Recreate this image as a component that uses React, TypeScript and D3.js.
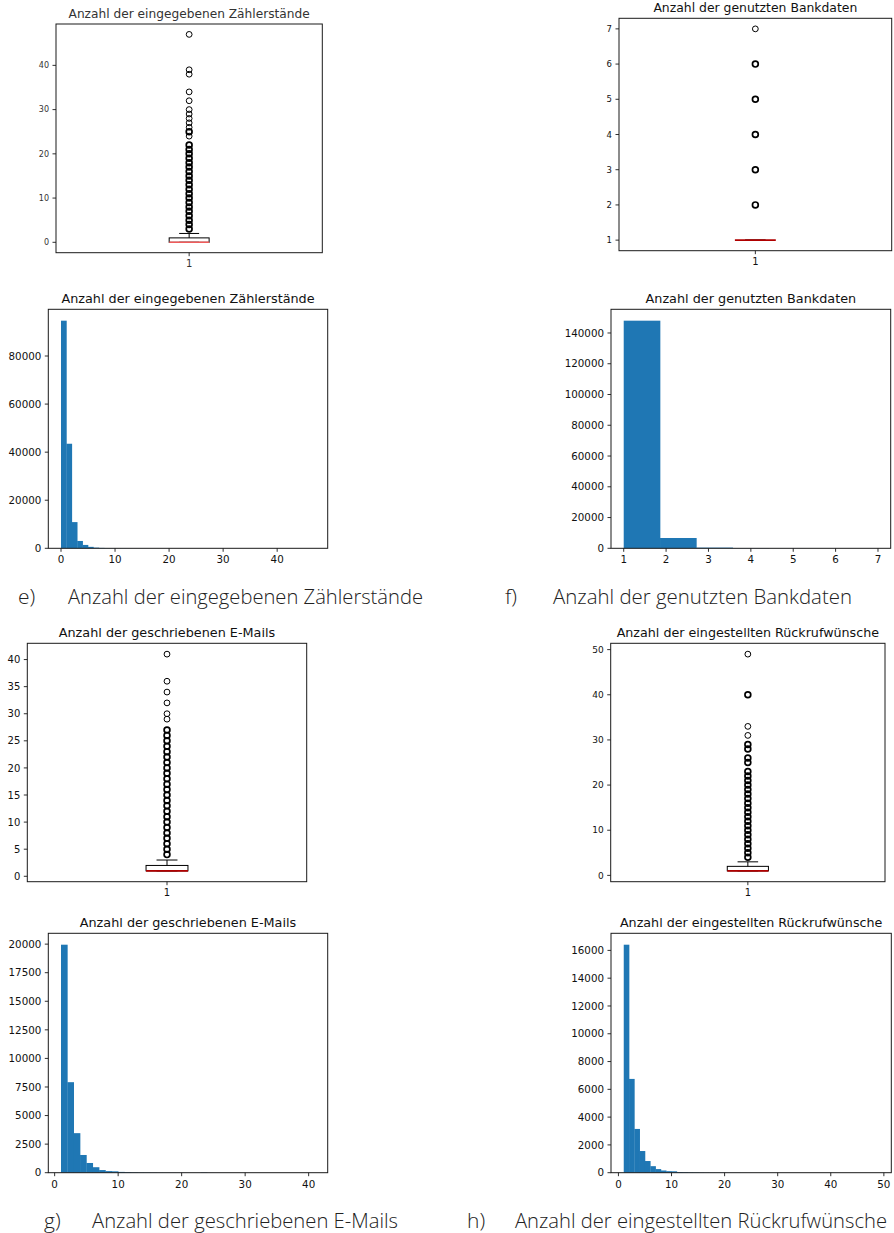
import React from "react";
import * as d3 from "d3";

// ---------- DATA ----------
// Box plot statistics (q1, median, q3, lower whisker, upper whisker)
const boxZaehler = { q1: 0, med: 0, q3: 1, wLo: 0, wHi: 2 };
const boxBank = { q1: 1, med: 1, q3: 1, wLo: 1, wHi: 1 };
const boxMails = { q1: 1, med: 1, q3: 2, wLo: 1, wHi: 3 };
const boxRueckruf = { q1: 1, med: 1, q3: 2, wLo: 1, wHi: 3 };

// Outlier values and how many observations sit on each value
const outZaehlerValues = [3, 4, 5, 6, 7, 8, 9, 10, 11, 12, 13, 14, 15, 16, 17, 18, 19, 20, 21, 22, 24, 25, 26, 27, 28, 29, 30, 32, 34, 38, 39, 47];
const outZaehlerCounts = [3050, 1400, 600, 280, 160, 100, 70, 50, 40, 30, 22, 18, 14, 10, 8, 6, 5, 4, 3, 2, 1, 2, 1, 1, 1, 1, 1, 1, 1, 1, 1, 1];
const outBankValues = [2, 3, 4, 5, 6, 7];
const outBankCounts = [6700, 450, 120, 30, 10, 1];
const outMailsValues = [4, 5, 6, 7, 8, 9, 10, 11, 12, 13, 14, 15, 16, 17, 18, 19, 20, 21, 22, 23, 24, 25, 26, 27, 29, 30, 32, 34, 36, 41];
const outMailsCounts = [1550, 850, 480, 230, 140, 120, 70, 50, 40, 30, 25, 20, 15, 12, 10, 8, 6, 5, 4, 25, 6, 3, 2, 2, 1, 1, 1, 1, 1, 1];
const outRueckrufValues = [4, 5, 6, 7, 8, 9, 10, 11, 12, 13, 14, 15, 16, 17, 18, 19, 20, 21, 22, 23, 25, 26, 28, 29, 31, 33, 40, 49];
const outRueckrufCounts = [1560, 840, 470, 260, 160, 110, 100, 50, 40, 30, 25, 20, 15, 12, 10, 8, 6, 5, 5, 4, 2, 2, 2, 2, 1, 1, 2, 1];

// Histogram ranges and bin counts
const histZaehlerRange = [0, 47];
const histZaehlerCounts = [94700, 43500, 10900, 3050, 1400, 600, 280, 160, 100, 70, 50, 40, 30, 22, 18, 14, 10, 8, 6, 5, 4, 3, 2, 0, 1, 2, 1, 1, 1, 1, 1, 0, 1, 0, 1, 0, 0, 0, 1, 1, 0, 0, 0, 0, 0, 0, 1];
const histBankRange = [1, 7];
const histBankCounts = [148000, 6700, 450, 120, 30, 10, 1];
const histMailsRange = [1, 41];
const histMailsCounts = [19950, 7920, 3460, 1550, 850, 480, 230, 140, 120, 70, 50, 40, 30, 25, 20, 15, 12, 10, 8, 6, 5, 4, 25, 6, 3, 2, 2, 0, 1, 1, 0, 1, 0, 1, 0, 1, 0, 0, 0, 1];
const histRueckrufRange = [1, 49];
const histRueckrufCounts = [16410, 6750, 3150, 1560, 840, 470, 260, 160, 110, 100, 50, 40, 30, 25, 20, 15, 12, 10, 8, 6, 5, 5, 4, 3, 2, 2, 0, 2, 2, 0, 1, 0, 1, 0, 0, 0, 0, 0, 0, 2, 0, 0, 0, 0, 0, 0, 0, 1];

// Tick labels
const ticksZaehlerBox = [0, 10, 20, 30, 40];
const ticksBankBox = [1, 2, 3, 4, 5, 6, 7];
const ticksMailsBox = [0, 5, 10, 15, 20, 25, 30, 35, 40];
const ticksRueckrufBox = [0, 10, 20, 30, 40, 50];
const ticksZaehlerHistX = [0, 10, 20, 30, 40];
const ticksZaehlerHistY = [0, 20000, 40000, 60000, 80000];
const ticksBankHistX = [1, 2, 3, 4, 5, 6, 7];
const ticksBankHistY = [0, 20000, 40000, 60000, 80000, 100000, 120000, 140000];
const ticksMailsHistX = [0, 10, 20, 30, 40];
const ticksMailsHistY = [0, 2500, 5000, 7500, 10000, 12500, 15000, 17500, 20000];
const ticksRueckrufHistX = [0, 10, 20, 30, 40, 50];
const ticksRueckrufHistY = [0, 2000, 4000, 6000, 8000, 10000, 12000, 14000, 16000];

// Titles / captions
const titleZaehler = "Anzahl der eingegebenen Zählerstände";
const titleBank = "Anzahl der genutzten Bankdaten";
const titleMails = "Anzahl der geschriebenen E-Mails";
const titleRueckruf = "Anzahl der eingestellten Rückrufwünsche";
const captionLabels = ["e)", "f)", "g)", "h)"];
const captionTexts = [titleZaehler, titleBank, titleMails, titleRueckruf];

// ---------- STYLE / LAYOUT ----------
const FONT = "'DejaVu Sans', sans-serif";
const CAP_FONT = "'Open Sans', 'Noto Sans', sans-serif";
const BAR = "#1f77b4";
const SPINE = "#1a1a1a";
const TICK = 3.5;

type Frame = { l: number; t: number; r: number; b: number };

function pad(lo: number, hi: number) {
  const m = (hi - lo) * 0.05;
  return [lo - m, hi + m];
}

function Frame({ f, title, titleFs, yTicks, y, yFs, xTicks, x, xFs, color, children }: any) {
  return (
    <g>
      {children}
      <rect x={f.l} y={f.t} width={f.r - f.l} height={f.b - f.t} fill="none" stroke={SPINE} strokeWidth={1} />
      {yTicks.map((v: number) => (
        <g key={"y" + v}>
          <line x1={f.l - TICK} x2={f.l} y1={y(v)} y2={y(v)} stroke={SPINE} strokeWidth={0.9} />
          <text x={f.l - TICK - 3.5} y={y(v)} dy="0.36em" textAnchor="end" fontSize={yFs} fill={color} fontFamily={FONT}>{v}</text>
        </g>
      ))}
      {xTicks.map((v: number) => (
        <g key={"x" + v}>
          <line x1={x(v)} x2={x(v)} y1={f.b} y2={f.b + TICK} stroke={SPINE} strokeWidth={0.9} />
          <text x={x(v)} y={f.b + TICK + 3.5} dy="0.76em" textAnchor="middle" fontSize={xFs} fill={color} fontFamily={FONT}>{v}</text>
        </g>
      ))}
      <text x={(f.l + f.r) / 2} y={f.t - 6} textAnchor="middle" fontSize={titleFs} fill={color} fontFamily={FONT}>{title}</text>
    </g>
  );
}

function BoxPanel({ f, stats, outValues, outCounts, yDomain, yTicks, title, titleFs, yFs, medianColor, color }: any) {
  const x = d3.scaleLinear().domain([0.5, 1.5]).range([f.l, f.r]);
  const y = d3.scaleLinear().domain(yDomain).range([f.b, f.t]);
  const bw = 0.15;
  const x0 = x(1 - bw / 2), x1 = x(1 + bw / 2);
  const c0 = x(1 - bw / 4), c1 = x(1 + bw / 4);
  const xc = x(1);
  return (
    <Frame f={f} title={title} titleFs={titleFs} yTicks={yTicks} y={y} yFs={yFs} xTicks={[1]} x={x} xFs={10} color={color}>
      <line x1={xc} x2={xc} y1={y(stats.q3)} y2={y(stats.wHi)} stroke="#000" strokeWidth={1} />
      <line x1={xc} x2={xc} y1={y(stats.q1)} y2={y(stats.wLo)} stroke="#000" strokeWidth={1} />
      <line x1={c0} x2={c1} y1={y(stats.wHi)} y2={y(stats.wHi)} stroke="#000" strokeWidth={1} />
      <line x1={c0} x2={c1} y1={y(stats.wLo)} y2={y(stats.wLo)} stroke="#000" strokeWidth={1} />
      <rect x={x0} y={y(stats.q3)} width={x1 - x0} height={Math.max(0, y(stats.q1) - y(stats.q3))} fill="none" stroke="#000" strokeWidth={1} />
      <line x1={x0} x2={x1} y1={y(stats.med)} y2={y(stats.med)} stroke={medianColor} strokeWidth={1.6} />
      {outValues.map((v: number, i: number) => (
        <circle key={i} cx={xc} cy={y(v)} r={2.9} fill="none" stroke="#000" strokeWidth={outCounts[i] > 1 ? 1.7 : 1} />
      ))}
    </Frame>
  );
}

function HistPanel({ f, range, counts, xDomain, yTicks, xTicks, title, titleFs, yFs, xFs }: any) {
  const x = d3.scaleLinear().domain(xDomain).range([f.l, f.r]);
  const ymax = (d3.max(counts as number[]) as number) * 1.05;
  const y = d3.scaleLinear().domain([0, ymax]).range([f.b, f.t]);
  const n = counts.length;
  const w = (range[1] - range[0]) / n;
  return (
    <Frame f={f} title={title} titleFs={titleFs} yTicks={yTicks} y={y} yFs={yFs} xTicks={xTicks} x={x} xFs={xFs} color="#111">
      {counts.map((c: number, i: number) => {
        const a = x(range[0] + i * w), b = x(range[0] + (i + 1) * w);
        return c > 0 ? <rect key={i} x={a} y={y(c)} width={b - a + 0.3} height={f.b - y(c)} fill={BAR} /> : null;
      })}
    </Frame>
  );
}

const F1: Frame = { l: 56, t: 24, r: 322.3, b: 252.7 };
const F2: Frame = { l: 619, t: 18.3, r: 891.7, b: 250.7 };
const F3: Frame = { l: 48.3, t: 309.3, r: 327.7, b: 548.3 };
const F4: Frame = { l: 611, t: 309.3, r: 890.7, b: 548.3 };
const F5: Frame = { l: 27.3, t: 643.3, r: 306.7, b: 881.7 };
const F6: Frame = { l: 610.7, t: 643.3, r: 885, b: 881.7 };
const F7: Frame = { l: 48.3, t: 933.3, r: 327.7, b: 1172.7 };
const F8: Frame = { l: 611, t: 933.3, r: 891.3, b: 1172.7 };

const CAP_POS = [
  { lx: 18, tx: 68, w: 355, y: 604 },
  { lx: 505, tx: 553, w: 299, y: 604 },
  { lx: 44, tx: 92, w: 306, y: 1228 },
  { lx: 467, tx: 515, w: 372, y: 1228 },
];

export default function App() {
  return (
    <svg width={894} height={1233} style={{ position: "absolute", left: 0, top: 0, background: "#fff" }}>
      <rect width={894} height={1233} fill="#fff" />
      <BoxPanel f={F1} stats={boxZaehler} outValues={outZaehlerValues} outCounts={outZaehlerCounts}
        yDomain={pad(0, 47)} yTicks={ticksZaehlerBox} title={titleZaehler} titleFs={12.2} yFs={8} medianColor="#f05a5a" color="#333" />
      <BoxPanel f={F2} stats={boxBank} outValues={outBankValues} outCounts={outBankCounts}
        yDomain={pad(1, 7)} yTicks={ticksBankBox} title={titleBank} titleFs={12.4} yFs={8.5} medianColor="#b00000" color="#111" />
      <HistPanel f={F3} range={histZaehlerRange} counts={histZaehlerCounts} xDomain={pad(0, 47)}
        yTicks={ticksZaehlerHistY} xTicks={ticksZaehlerHistX} title={titleZaehler} titleFs={12.8} yFs={10.3} xFs={10.3} />
      <HistPanel f={F4} range={histBankRange} counts={histBankCounts} xDomain={pad(1, 7)}
        yTicks={ticksBankHistY} xTicks={ticksBankHistX} title={titleBank} titleFs={12.8} yFs={10.3} xFs={10.3} />
      <BoxPanel f={F5} stats={boxMails} outValues={outMailsValues} outCounts={outMailsCounts}
        yDomain={pad(1, 41)} yTicks={ticksMailsBox} title={titleMails} titleFs={12.8} yFs={10} medianColor="#b00000" color="#111" />
      <BoxPanel f={F6} stats={boxRueckruf} outValues={outRueckrufValues} outCounts={outRueckrufCounts}
        yDomain={pad(1, 49)} yTicks={ticksRueckrufBox} title={titleRueckruf} titleFs={12.7} yFs={9} medianColor="#b00000" color="#111" />
      <HistPanel f={F7} range={histMailsRange} counts={histMailsCounts} xDomain={pad(1, 41)}
        yTicks={ticksMailsHistY} xTicks={ticksMailsHistX} title={titleMails} titleFs={12.8} yFs={10.3} xFs={10.3} />
      <HistPanel f={F8} range={histRueckrufRange} counts={histRueckrufCounts} xDomain={pad(1, 49)}
        yTicks={ticksRueckrufHistY} xTicks={ticksRueckrufHistX} title={titleRueckruf} titleFs={12.7} yFs={10.3} xFs={10.3} />
      {captionLabels.map((lab, i) => (
        <g key={lab} fontFamily={CAP_FONT} fontWeight={300} fontSize={19.5} fill="#222">
          <text x={CAP_POS[i].lx} y={CAP_POS[i].y} fontSize={21}>{lab}</text>
          <text x={CAP_POS[i].tx} y={CAP_POS[i].y} textLength={CAP_POS[i].w} lengthAdjust="spacingAndGlyphs">{captionTexts[i]}</text>
        </g>
      ))}
    </svg>
  );
}
